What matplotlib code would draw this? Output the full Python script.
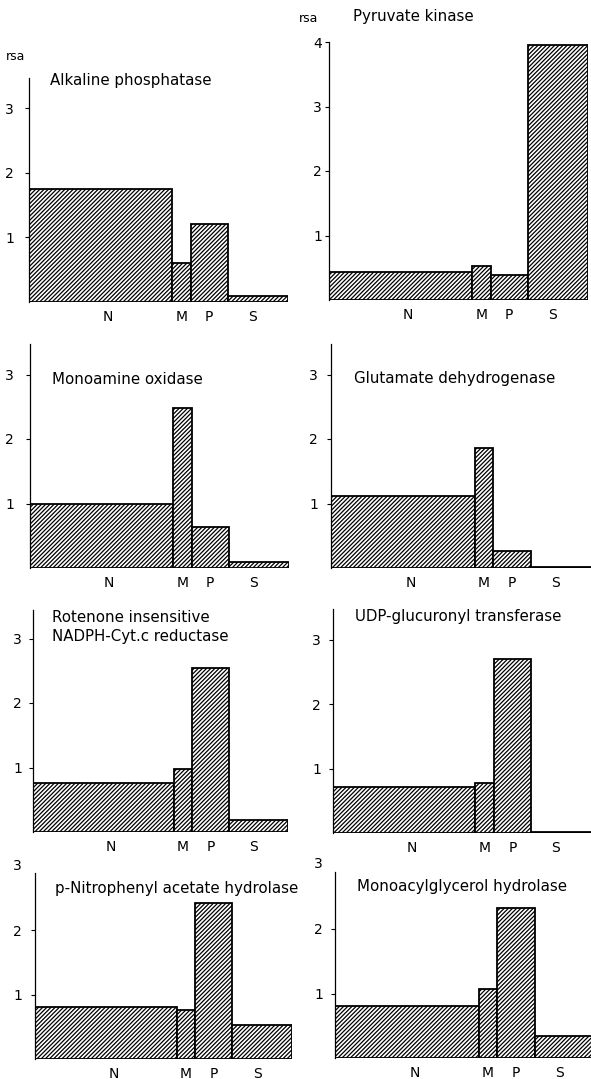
import matplotlib
matplotlib.use("Agg")
import matplotlib.pyplot as plt
import numpy as np

plt.rcParams['font.family'] = 'DejaVu Sans'
plt.rcParams['hatch.linewidth'] = 0.9

W, H = 591, 1079

# subcellular fractions and their share of total protein (bar widths)
fractions = ['N', 'M', 'P', 'S']
protein = [0.552, 0.072, 0.144, 0.232]

titles = ['Alkaline phosphatase', 'Pyruvate kinase',
          'Monoamine oxidase', 'Glutamate dehydrogenase',
          'Rotenone insensitive\nNADPH-Cyt.c reductase', 'UDP-glucuronyl transferase',
          'p-Nitrophenyl acetate hydrolase', 'Monoacylglycerol hydrolase']

# relative specific activity (rsa) per fraction N, M, P, S
alk_phos = [1.75, 0.60, 1.21, 0.10]
pyr_kin = [0.43, 0.53, 0.39, 3.95]
mao = [1.00, 2.48, 0.64, 0.10]
gdh = [1.12, 1.86, 0.26, 0.02]
nadph_red = [0.76, 0.97, 2.54, 0.19]
udp_gt = [0.71, 0.78, 2.70, 0.01]
pnp_hyd = [0.80, 0.76, 2.42, 0.52]
mag_hyd = [0.81, 1.07, 2.32, 0.34]
rsa = [alk_phos, pyr_kin, mao, gdh, nadph_red, udp_gt, pnp_hyd, mag_hyd]

yticks = [[1, 2, 3], [1, 2, 3, 4], [1, 2, 3], [1, 2, 3],
          [1, 2, 3], [1, 2, 3], [1, 2], [1, 2]]

# layout in pixels
unit = 64.5                       # px per rsa unit
axis_x = [29, 329, 30, 331, 33, 333, 35, 335]
axis_r = [288, 588, 289, 591, 288, 591, 292, 595]
base_y = [302, 300, 568, 568, 832, 833, 1059, 1058]
y_top = [3.47, 4.0, 3.47, 3.47, 3.44, 3.47, 2.88, 2.88]
title_xy = [(50, 80), (353, 17), (52, 379), (354, 379),
            (52, 627), (355, 617), (55, 888), (357, 887)]
tick_pad = [11, 3, 12, 9, 7, 8, 9, 8]
label_shift = [0.03, 0.0, 0.0, -0.02]

fig = plt.figure(figsize=(W / 100, H / 100), dpi=100)

lefts = np.concatenate([[0], np.cumsum(protein)[:-1]])
centres = lefts + np.array(protein) / 2

for i in range(8):
    x0, x1, yb, yt = axis_x[i], axis_r[i], base_y[i], y_top[i]
    ax = fig.add_axes([x0 / W, 1 - yb / H, (x1 - x0) / W, yt * unit / H])
    ax.bar(lefts, rsa[i], width=protein, align='edge', facecolor='white',
           edgecolor='black', hatch='////////', linewidth=1.3)
    ax.set_xlim(0, 1)
    ax.set_ylim(0, yt)
    for s in ['top', 'right', 'bottom']:
        ax.spines[s].set_visible(False)
    ax.spines['left'].set_linewidth(0.9)
    ax.set_xticks([])
    ax.set_yticks(yticks[i])
    ax.tick_params(axis='y', length=3, width=0.8, pad=tick_pad[i] * 0.72,
                   labelsize=10)
    if yt < 3:
        # the "3" sits above the end of the short axis, no tick mark
        ax.annotate('3', xy=(0, 3), xycoords='data',
                    xytext=(-3 - tick_pad[i] * 0.72, 0), textcoords='offset points',
                    ha='right', va='center', fontsize=10, annotation_clip=False)
    for f, c, d in zip(fractions, centres, label_shift):
        ax.annotate(f, xy=(c + d, 0), xycoords='data', xytext=(0, -10.5),
                    textcoords='offset points', ha='center', va='center',
                    fontsize=10, annotation_clip=False)
    tx, ty = title_xy[i]
    fig.text(tx / W, 1 - ty / H, titles[i], ha='left', va='center',
             fontsize=10.8, linespacing=1.3)

fig.text(16 / W, 1 - 57 / H, 'rsa', ha='center', va='center', fontsize=9)
fig.text(309 / W, 1 - 18 / H, 'rsa', ha='center', va='center', fontsize=9)

fig.savefig('out.png', dpi=100, facecolor='white')
